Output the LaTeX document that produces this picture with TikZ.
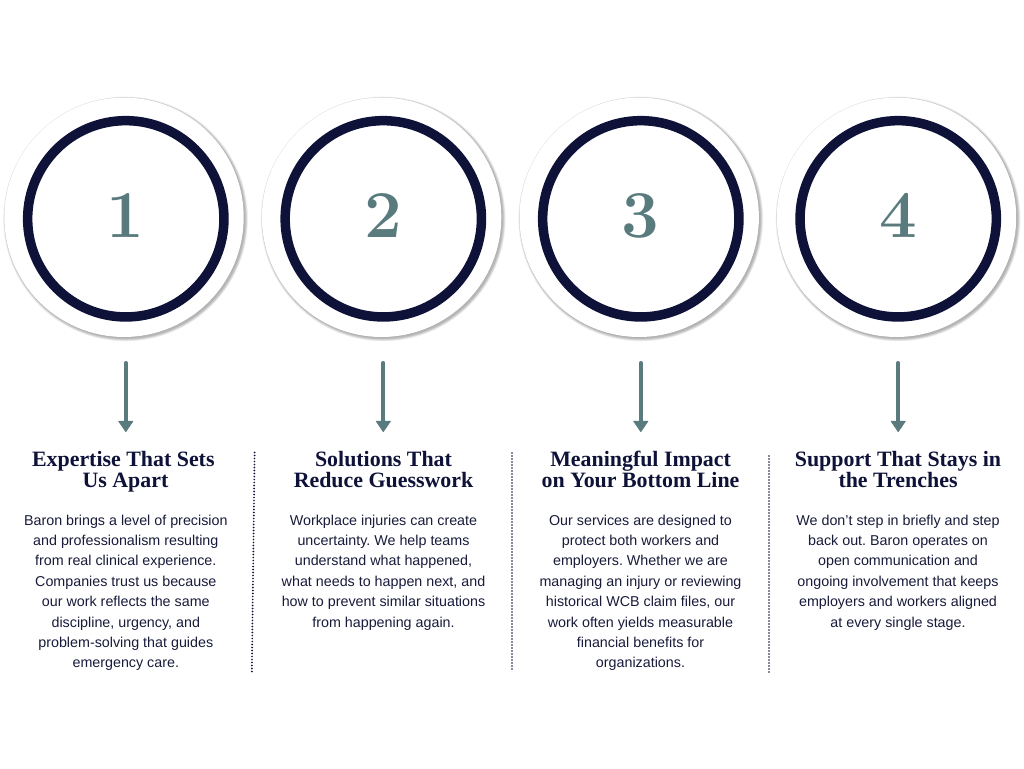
\documentclass[tikz,border=0pt]{standalone}
\usepackage{fontspec}
\setmainfont{Liberation Sans}
\newfontfamily\headfont{Liberation Serif}
\newfontfamily\numfont{Latin Modern Roman}
\usetikzlibrary{arrows.meta,shapes.geometric}
\definecolor{navy}{HTML}{0F1238}
\definecolor{teal}{HTML}{5A7B7E}
\definecolor{bodyink}{HTML}{181B3A}
\tikzset{
  x=1pt,y=-1pt,
  outerdisc/.style={circle,fill=white,minimum size=239.4pt,inner sep=0pt,outer sep=0pt},
  ringdisc/.style={circle,draw=navy,line width=9.5pt,minimum size=196.3pt,inner sep=0pt,fill=white},
  numeral/.style={text=teal,font=\fontsize{67}{67}\selectfont\numfont\bfseries,inner sep=0pt},
  headtext/.style={text=navy,font=\headfont\bfseries\fontsize{21.9}{21}\selectfont,align=center,anchor=base,inner sep=0pt},
  bodytext/.style={text=bodyink,font=\fontsize{14.3}{20.4}\selectfont,align=center,anchor=north,inner sep=0pt},
  flowarrow/.style={draw=teal,line width=3.8pt,line cap=round,-{Triangle[length=11.5pt,width=15.5pt,round,line width=0.8pt]}},
  divider/.style={draw=navy,line width=1.9pt,line cap=round,dash pattern=on 0pt off 3pt}
}
\begin{document}
\frenchspacing
\begin{tikzpicture}
\useasboundingbox (0,0) rectangle (1024,768);
\fill[white] (0,0) rectangle (1024,768);
\foreach \n/\ox/\cx in {1/124/125.8,2/381.6/383.3,3/639.2/640.8,4/896.5/898.2}{
  \foreach \r in {122.4,122,121.6,121.2,120.8,120.4,120,119.6}{
    \fill[black,opacity=0.04] (\ox+1.6,217.3+1.6) circle[radius=\r];
  }
  \fill[black,opacity=0.08] (\ox,217.3) circle[radius=120.1];
  \node[outerdisc] (disc\n) at (\ox,217.3) {};
  \node[ringdisc] (ring\n) at (\cx,218.8) {};
  \node[numeral] (num\n) at (\cx,215.5) {\n};
  \coordinate (arrowtop\n) at (\cx,362.9);
  \coordinate (arrowend\n) at (\cx,432);
  \draw[flowarrow] (arrowtop\n) -- (arrowend\n);
}
\node[headtext] (h1a) at (125.5,487) {Expertise That Sets\hspace*{4.4pt}\\Us Apart};
\node[headtext] (h2a) at (383.5,487) {Solutions That\\Reduce Guesswork};
\node[headtext] (h3a) at (640.6,487) {Meaningful Impact\\on Your Bottom Line};
\node[headtext] (h4a) at (898,487) {Support That Stays in\\the Trenches};
\node[bodytext] (b1) at (125.8,514.6) {Baron brings a level of precision\\and professionalism resulting\\from real clinical experience.\\Companies trust us because\\our work reflects the same\\discipline, urgency, and\\problem-solving that guides\\emergency care.};
\node[bodytext] (b2) at (383.5,514.6) {Workplace injuries can create\\uncertainty. We help teams\\understand what happened,\\what needs to happen next, and\\how to prevent similar situations\\from happening again.};
\node[bodytext] (b3) at (640.5,514.6) {Our services are designed to\\protect both workers and\\employers. Whether we are\\managing an injury or reviewing\\historical WCB claim files, our\\work often yields measurable\\financial benefits for\\organizations.};
\node[bodytext] (b4) at (898,514.6) {We don’t step in briefly and step\\back out. Baron operates on\\open communication and\\ongoing involvement that keeps\\employers and workers aligned\\at every single stage.};
\foreach \n/\xa/\ya/\xb/\yb in {1/254.6/452.5/251.8/674,2/512/453/512/670,3/769/456/769/673}{
  \coordinate (dtop\n) at (\xa,\ya);
  \coordinate (dbot\n) at (\xb,\yb);
  \draw[divider] (dtop\n) -- (dbot\n);
}
\end{tikzpicture}
\end{document}
